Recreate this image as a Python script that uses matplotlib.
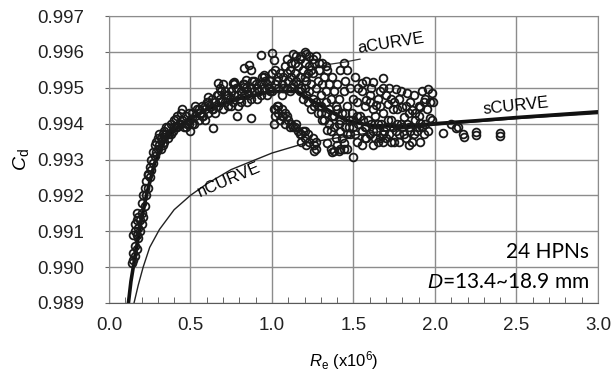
import matplotlib.pyplot as plt
from matplotlib.ticker import MultipleLocator

plt.rcParams['font.family'] = ['Liberation Sans', 'DejaVu Sans']
plt.rcParams['mathtext.fontset'] = 'custom'
plt.rcParams['mathtext.rm'] = 'Liberation Sans'
plt.rcParams['mathtext.it'] = 'Liberation Sans:italic'

ramp_pts = [
    (0.14, 0.9901), (0.15, 0.9902), (0.15, 0.9904), (0.16, 0.9903), (0.16, 0.9906),
    (0.17, 0.9905), (0.15, 0.9909), (0.16, 0.9910), (0.17, 0.9909), (0.16, 0.9912),
    (0.17, 0.9913), (0.18, 0.9911), (0.18, 0.9914), (0.19, 0.9913), (0.19, 0.9910),
    (0.20, 0.9912), (0.20, 0.9915), (0.17, 0.9915), (0.18, 0.9908), (0.21, 0.9914),
    (0.20, 0.9918), (0.21, 0.9920), (0.22, 0.9917), (0.22, 0.9922), (0.23, 0.9920),
    (0.23, 0.9924), (0.24, 0.9926), (0.24, 0.9922), (0.25, 0.9925), (0.25, 0.9928),
    (0.26, 0.9927), (0.26, 0.9930), (0.27, 0.9929), (0.27, 0.9932), (0.28, 0.9931),
    (0.28, 0.9934), (0.29, 0.9932), (0.29, 0.9935), (0.30, 0.9933), (0.30, 0.9936),
    (0.31, 0.9934), (0.32, 0.9936), (0.32, 0.9933), (0.33, 0.9937), (0.34, 0.9935),
    (0.34, 0.9938), (0.35, 0.9937), (0.36, 0.9939), (0.37, 0.9937), (0.38, 0.9940),
    (0.39, 0.9938), (0.40, 0.9941), (0.41, 0.9939), (0.42, 0.9942), (0.43, 0.9940),
    (0.44, 0.9943), (0.45, 0.9941), (0.34, 0.99362), (0.41, 0.99414), (0.24, 0.99257),
    (0.31, 0.9937), (0.33, 0.9934), (0.35, 0.9939), (0.36, 0.9936), (0.38, 0.9937),
    (0.40, 0.9939), (0.42, 0.9939), (0.44, 0.9940), (0.45, 0.9944),
]
band_pts = [
    (0.46, 0.9939), (0.47, 0.9942), (0.48, 0.9940), (0.49, 0.9943), (0.50, 0.9938),
    (0.50, 0.9941), (0.51, 0.9943), (0.52, 0.9940), (0.53, 0.9942), (0.54, 0.9944),
    (0.55, 0.9941), (0.56, 0.9943), (0.57, 0.9945), (0.58, 0.9942), (0.59, 0.9944),
    (0.60, 0.9946), (0.61, 0.9943), (0.62, 0.9945), (0.63, 0.9947), (0.64, 0.9944),
    (0.65, 0.9946), (0.66, 0.9948), (0.67, 0.9945), (0.68, 0.9947), (0.69, 0.9949),
    (0.70, 0.9944), (0.71, 0.9946), (0.72, 0.9948), (0.73, 0.9945), (0.74, 0.9947),
    (0.75, 0.9949), (0.76, 0.9946), (0.77, 0.9948), (0.78, 0.9950), (0.79, 0.9945),
    (0.80, 0.9947), (0.81, 0.9949), (0.82, 0.9951), (0.83, 0.9948), (0.84, 0.9950),
    (0.85, 0.9946), (0.86, 0.9948), (0.87, 0.9950), (0.88, 0.9952), (0.89, 0.9949),
    (0.90, 0.9951), (0.91, 0.9947), (0.92, 0.9949), (0.93, 0.9951), (0.94, 0.9953),
    (0.95, 0.9950), (0.96, 0.9952), (0.97, 0.9948), (0.98, 0.9950), (0.99, 0.9952),
    (1.00, 0.9954), (1.00, 0.9949),
    (0.47, 0.9939), (0.49, 0.9940), (0.51, 0.9940), (0.53, 0.9945), (0.55, 0.9944),
    (0.57, 0.9942), (0.59, 0.9941), (0.61, 0.9946), (0.63, 0.9944), (0.65, 0.9943),
    (0.67, 0.9948), (0.69, 0.9946), (0.71, 0.9949), (0.73, 0.9948), (0.75, 0.9945),
    (0.77, 0.9951), (0.79, 0.9948), (0.81, 0.9946), (0.83, 0.9951), (0.85, 0.9949),
    (0.87, 0.9947), (0.89, 0.9952), (0.91, 0.9950), (0.93, 0.9948), (0.95, 0.9953),
    (0.97, 0.9951), (0.99, 0.9949),
    (0.61, 0.99475), (0.59, 0.9945), (0.67, 0.99512), (0.76, 0.99514), (0.64, 0.99388),
    (0.785, 0.9942), (0.87, 0.99415), (0.77, 0.99517), (0.83, 0.99554), (0.86, 0.99563),
    (0.87, 0.99549), (0.84, 0.99521), (0.83, 0.99503), (0.93, 0.99591), (0.95, 0.99535),
    (0.70, 0.9951), (0.68, 0.9950),
]
hump_pts = [
    (1.00, 0.99597), (1.01, 0.99577), (1.02, 0.9955), (1.03, 0.9952), (1.04, 0.9950),
    (1.05, 0.9954), (1.06, 0.9951), (1.07, 0.9953), (1.08, 0.9956), (1.09, 0.9950),
    (1.10, 0.9952), (1.11, 0.9955), (1.12, 0.9957), (1.13, 0.9951), (1.14, 0.9954),
    (1.15, 0.9959), (1.16, 0.9956), (1.17, 0.9953), (1.18, 0.9959), (1.18, 0.9950),
    (1.19, 0.9955), (1.20, 0.9957), (1.21, 0.9952), (1.21, 0.9948), (1.22, 0.9954),
    (1.23, 0.9959), (1.23, 0.9956), (1.24, 0.9951), (1.25, 0.9947), (1.25, 0.9954),
    (1.26, 0.9957), (1.27, 0.9959), (1.27, 0.9950), (1.28, 0.9952), (1.29, 0.9945),
    (1.29, 0.9955), (1.30, 0.9948), (1.31, 0.9957), (1.31, 0.9951), (1.32, 0.9953),
    (1.33, 0.9946), (1.33, 0.9949), (1.34, 0.9955), (1.35, 0.9944), (1.35, 0.9951),
    (1.36, 0.9947), (1.37, 0.9953), (1.38, 0.9942), (1.38, 0.9949), (1.39, 0.9945),
    (1.40, 0.9951), (1.41, 0.9940), (1.41, 0.9947), (1.42, 0.9955), (1.43, 0.9943),
    (1.44, 0.9957), (1.44, 0.9949), (1.45, 0.9939), (1.45, 0.9952), (1.46, 0.9945),
    (1.46, 0.9955), (1.47, 0.9941), (1.48, 0.9950), (1.48, 0.9937), (1.49, 0.9943),
    (1.50, 0.9947), (1.50, 0.9939), (1.51, 0.9953),
    (1.06, 0.9948), (1.11, 0.9949), (1.16, 0.9951), (1.19, 0.9947), (1.23, 0.9949),
    (1.26, 0.9945), (1.30, 0.9943), (1.32, 0.9941), (1.36, 0.9938), (1.39, 0.9936),
    (1.42, 0.9938), (1.12, 0.9953), (1.14, 0.9957), (1.20, 0.9953), (1.24, 0.9955),
    (1.02, 0.9951), (1.04, 0.9953), (1.07, 0.9950), (1.09, 0.9954), (1.12, 0.9950),
    (1.15, 0.9952), (1.17, 0.9949), (1.20, 0.9950), (1.22, 0.9946), (1.24, 0.9944),
    (1.27, 0.9946), (1.28, 0.9943), (1.30, 0.9945), (1.31, 0.9941), (1.33, 0.9943),
    (1.35, 0.9940), (1.37, 0.9942), (1.38, 0.9939), (1.40, 0.9944), (1.42, 0.9941),
    (1.43, 0.9936), (1.45, 0.9943), (1.47, 0.9939), (1.49, 0.9941), (1.46, 0.9937),
    (1.09, 0.9958), (1.13, 0.99595), (1.17, 0.9958), (1.21, 0.99595), (1.25, 0.9958),
    (1.29, 0.9957), (1.33, 0.9956), (1.20, 0.9960),
]
branch_pts = [
    (1.01, 0.9944), (1.02, 0.9942), (1.03, 0.9945), (1.04, 0.9943), (1.05, 0.9941),
    (1.06, 0.9944), (1.07, 0.9942), (1.08, 0.9940), (1.09, 0.9942), (1.10, 0.9941),
    (1.12, 0.9940), (1.13, 0.9939), (1.15, 0.9940), (1.16, 0.9938), (1.17, 0.9937),
    (1.18, 0.9935), (1.19, 0.9938), (1.20, 0.9936), (1.21, 0.9934), (1.22, 0.9937),
    (1.25, 0.9936), (1.26, 0.9934), (1.27, 0.9933), (1.34, 0.99345), (1.36, 0.9933),
    (1.38, 0.99325), (1.40, 0.9934), (1.42, 0.9933), (1.44, 0.99346), (1.44, 0.99328),
    (1.46, 0.9933), (1.01, 0.9940), (1.34, 0.99382), (1.50, 0.99306),
    (1.02, 0.9944), (1.04, 0.9945), (1.06, 0.9942), (1.08, 0.9943), (1.11, 0.9939),
    (1.14, 0.9939), (1.18, 0.9937), (1.20, 0.9938), (1.23, 0.9935), (1.26, 0.99325),
    (1.27, 0.9935), (1.37, 0.9932), (1.41, 0.99325),
]
tail_pts = [
    (1.55, 0.99514), (1.62, 0.99517), (1.68, 0.99526), (1.68, 0.9950), (1.76, 0.99496),
    (1.83, 0.99485), (1.96, 0.99496), (1.98, 0.99485), (1.97, 0.99461), (1.58, 0.99466),
    (1.64, 0.99452), (1.71, 0.99455), (1.80, 0.99447), (1.86, 0.99438), (1.91, 0.99447),
    (1.93, 0.99461), (1.81, 0.99419), (1.97, 0.99415), (1.55, 0.9949), (1.60, 0.9948),
    (1.65, 0.9947), (1.70, 0.9948), (1.75, 0.9946), (1.78, 0.9947), (1.85, 0.9946),
    (1.90, 0.9945), (1.52, 0.9946), (1.57, 0.9945), (1.62, 0.9944), (1.68, 0.9943),
    (1.74, 0.9944), (1.88, 0.9943), (1.95, 0.9944),
    (1.53, 0.9950), (1.58, 0.9952), (1.61, 0.9950), (1.66, 0.9949), (1.72, 0.9950),
    (1.73, 0.9947), (1.79, 0.9949), (1.82, 0.9945), (1.87, 0.9948), (1.92, 0.9949),
    (1.94, 0.9947), (1.99, 0.9946), (1.60, 0.9946), (1.66, 0.9945), (1.77, 0.9944),
    (1.84, 0.9943), (1.90, 0.9942),
    (1.52, 0.9942), (1.53, 0.9940), (1.55, 0.9938), (1.56, 0.9941), (1.58, 0.9939),
    (1.60, 0.9937), (1.61, 0.9940), (1.63, 0.9942), (1.64, 0.9938), (1.66, 0.9936),
    (1.67, 0.9940), (1.69, 0.9938), (1.71, 0.9941), (1.72, 0.9937), (1.74, 0.9939),
    (1.75, 0.9935), (1.77, 0.9940), (1.78, 0.9937), (1.80, 0.9939), (1.82, 0.9936),
    (1.83, 0.9940), (1.85, 0.9938), (1.86, 0.9935), (1.88, 0.9941), (1.89, 0.9938),
    (1.91, 0.99401), (1.92, 0.9939), (1.91, 0.9935), (1.94, 0.9940), (1.96, 0.9938),
    (1.98, 0.9941), (1.52, 0.9935), (1.55, 0.9934), (1.58, 0.9936), (1.62, 0.9934),
    (1.65, 0.9935), (1.70, 0.9936),
    (1.54, 0.9942), (1.57, 0.9939), (1.59, 0.9941), (1.62, 0.9938), (1.65, 0.9940),
    (1.68, 0.9937), (1.70, 0.9939), (1.73, 0.9941), (1.76, 0.9938), (1.79, 0.9940),
    (1.81, 0.9937), (1.84, 0.9939), (1.87, 0.9937), (1.90, 0.9939), (1.93, 0.9937),
    (1.57, 0.9936), (1.63, 0.9936), (1.68, 0.9935), (1.73, 0.9935), (1.78, 0.9935),
    (1.84, 0.9934), (1.51, 0.9937),
    (2.05, 0.99373), (2.13, 0.99387), (2.14, 0.99391), (2.18, 0.99364), (2.17, 0.99372),
    (2.25, 0.99377), (2.25, 0.99368), (2.40, 0.99375), (2.40, 0.99366), (2.10, 0.9940),
]

# curves
s_re = [0.117, 0.135, 0.16, 0.19, 0.23, 0.28, 0.35, 0.45, 0.6, 0.8, 1.0, 1.15,
        1.3, 1.45, 1.6, 1.8, 2.0, 2.25, 2.5, 2.75, 3.0]
s_cd = [0.9889, 0.9896, 0.9903, 0.9911, 0.9920, 0.9929, 0.9936, 0.9940, 0.9944,
        0.9947, 0.9949, 0.9949, 0.9945, 0.9941, 0.99395, 0.99392, 0.99400, 0.99408,
        0.99417, 0.99425, 0.99433]
n_re = [0.154, 0.18, 0.21, 0.25, 0.31, 0.4, 0.5, 0.6, 0.75, 1.0, 1.2, 1.5, 1.8,
        2.0, 2.5, 3.0]
n_cd = [0.9890, 0.9895, 0.9900, 0.99055, 0.99105, 0.9916, 0.99200, 0.99232, 0.99272,
        0.99318, 0.99345, 0.99368, 0.99386, 0.99396, 0.99414, 0.99428]
a_re = [1.30, 1.36, 1.45, 1.54]
a_cd = [0.99560, 0.99566, 0.99572, 0.99580]

all_pts = ramp_pts + band_pts + hump_pts + branch_pts + tail_pts
re = [p[0] for p in all_pts]
cd = [p[1] for p in all_pts]

fig = plt.figure(figsize=(6.12, 3.74), dpi=100)
ax = fig.add_axes([0.178, 0.19, 0.799, 0.767])

ax.grid(True, color='0.55', lw=1.0)
ax.set_axisbelow(True)
ax.plot(n_re, n_cd, '-', color='#222222', lw=1.0, zorder=2)
ax.plot(s_re, s_cd, '-', color='#111111', lw=2.6, zorder=2)
ax.plot(a_re, a_cd, '-', color='#333333', lw=0.9, zorder=2)
ax.plot(re, cd, 'o', mfc='none', mec='#1a1a1a', ms=5.6, mew=1.3, zorder=3)

ax.set_xlim(0, 3.0)
ax.set_ylim(0.989, 0.997)
ax.xaxis.set_major_locator(MultipleLocator(0.5))
ax.xaxis.set_minor_locator(MultipleLocator(0.1))
ax.yaxis.set_major_locator(MultipleLocator(0.001))
ax.xaxis.set_major_formatter(plt.FuncFormatter(lambda v, p: '%.1f' % v))
ax.yaxis.set_major_formatter(plt.FuncFormatter(lambda v, p: '%.3f' % v))
ax.tick_params(axis='x', which='both', direction='in', labelsize=13.5, pad=10,
               colors='0.3', labelcolor='#222222')
ax.tick_params(axis='x', which='major', length=0)
ax.tick_params(axis='x', which='minor', length=4)
ax.tick_params(axis='y', direction='out', length=3, labelsize=13.5, pad=15,
               colors='0.4', labelcolor='#222222')
for side in ['top', 'right', 'left']:
    ax.spines[side].set_color('0.55')
ax.spines['bottom'].set_color('0.35')

ax.set_ylabel(r'$C_\mathrm{d}$', fontsize=14)
ax.yaxis.set_label_coords(-0.16, 0.5)
ax.set_xlabel(r'$R_\mathrm{e}$ (x10$^6$)', fontsize=12)
ax.xaxis.set_label_coords(0.48, -0.16)

ax.text(1.73, 0.99623, 'aCURVE', fontsize=12, rotation=9, ha='center', va='center')
ax.text(0.74, 0.99245, 'nCURVE', fontsize=12, rotation=23, ha='center', va='center')
ax.text(2.50, 0.99449, 'sCURVE', fontsize=12, rotation=6, ha='center', va='center')
ax.text(2.945, 0.99026, '24 HPNs', fontsize=15, ha='right', va='baseline',
        family=['Lato', 'DejaVu Sans'])
ax.text(2.945, 0.98942, r'$\it{D}$=13.4~18.9 mm', fontsize=15, ha='right',
        va='baseline', family=['Lato', 'DejaVu Sans'])

fig.savefig('out.png', dpi=100)
